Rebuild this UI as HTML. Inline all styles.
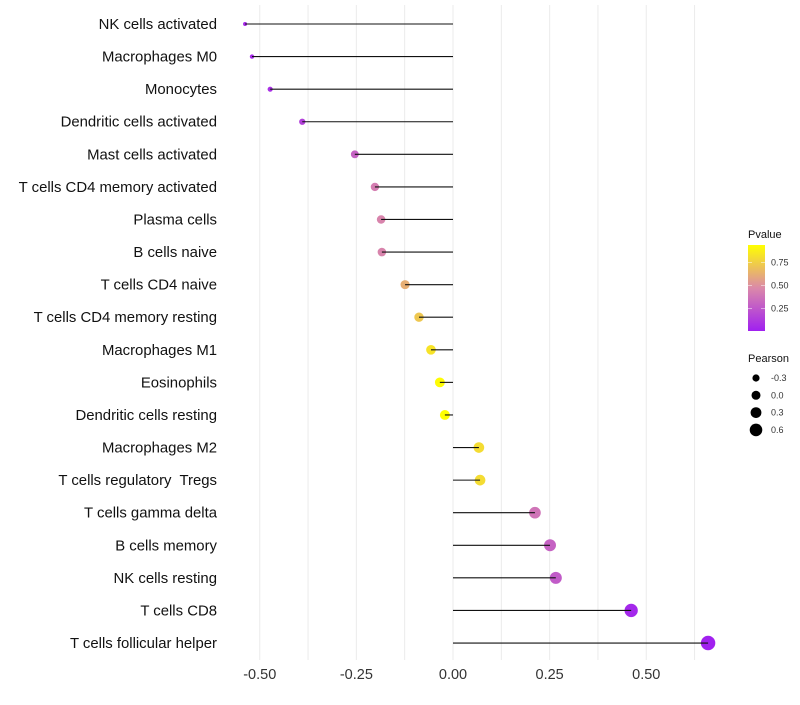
<!DOCTYPE html>
<html><head><meta charset="utf-8"><style>
body{margin:0;background:#fff;font-family:"Liberation Sans",sans-serif;}
svg text{font-family:"Liberation Sans",sans-serif;white-space:pre;}
</style></head><body>
<svg id="chart" width="800" height="700" xmlns="http://www.w3.org/2000/svg"></svg>
<script>
const categories=["NK cells activated","Macrophages M0","Monocytes","Dendritic cells activated","Mast cells activated","T cells CD4 memory activated","Plasma cells","B cells naive","T cells CD4 naive","T cells CD4 memory resting","Macrophages M1","Eosinophils","Dendritic cells resting","Macrophages M2","T cells regulatory  Tregs","T cells gamma delta","B cells memory","NK cells resting","T cells CD8","T cells follicular helper"];
const pearson=[-0.538,-0.52,-0.473,-0.39,-0.254,-0.202,-0.186,-0.184,-0.124,-0.088,-0.057,-0.034,-0.021,0.067,0.07,0.212,0.251,0.266,0.461,0.66];
const pvalues=[0.05,0.05,0.08,0.15,0.3,0.42,0.45,0.45,0.62,0.72,0.83,0.93,0.97,0.8,0.8,0.38,0.3,0.27,0.04,0.01];
const xTicks=[-0.5,-0.25,0,0.25,0.5];
const xTickLabels=["-0.50","-0.25","0.00","0.25","0.50"];
const colorTicks=[0.25,0.5,0.75];
const sizeTicks=[-0.3,0,0.3,0.6];

const NS="http://www.w3.org/2000/svg";
const svg=document.getElementById('chart');
function mk(t,a,p){const e=document.createElementNS(NS,t);for(const k in a)e.setAttribute(k,a[k]);(p||svg).appendChild(e);return e;}
const x=v=>453+v*386.5;
const y=i=>24+i*32.58;
const rad=v=>Math.sqrt(Math.max(2,4+(v+0.54)*40));
const stops=[[160,32,240],[219,137,169],[255,255,0]];
function col(p){const t=Math.max(0,Math.min(1,(p-0.006)/0.934));let a,b,f;if(t<0.5){a=stops[0];b=stops[1];f=t/0.5}else{a=stops[1];b=stops[2];f=(t-0.5)/0.5}
return 'rgb('+a.map((c,i)=>Math.round(c+(b[i]-c)*f)).join(',')+')';}

for(let v=-0.5;v<=0.626;v+=0.125){const g=mk('line',{x1:x(v),x2:x(v),y1:5,y2:660,stroke:'#ebebeb','stroke-width':1});

}
xTicks.forEach((v,i)=>{const t=mk('text',{x:x(v),y:679,'text-anchor':'middle','font-size':14.5,fill:'#333'});t.textContent=xTickLabels[i];

});

categories.forEach((c,i)=>{
const t=mk('text',{x:217,y:y(i)+5,'text-anchor':'end','font-size':14.9,fill:'#111'});t.textContent=c;


const p=mk('circle',{cx:x(pearson[i]),cy:y(i),r:rad(pearson[i]),fill:col(pvalues[i])});


const l=mk('line',{x1:x(0),x2:x(pearson[i]),y1:y(i),y2:y(i),stroke:'#111','stroke-width':1.1});


});

const defs=mk('defs',{});
const lg=mk('linearGradient',{id:'pg',x1:0,y1:1,x2:0,y2:0},defs);
[0,0.5,1].forEach((o,i)=>mk('stop',{offset:o,'stop-color':'rgb('+stops[i].join(',')+')'},lg));
const lt=mk('text',{x:748,y:238,'font-size':11,fill:'#111'});lt.textContent='Pvalue';


const bar=mk('rect',{x:748,y:245,width:17,height:86,fill:'url(#pg)'});


const cy=v=>331-(v-0.006)/0.934*86;
colorTicks.forEach(v=>{const t=mk('text',{x:771,y:cy(v)+3,'font-size':9,fill:'#333'});t.textContent=v.toFixed(2);


mk('line',{x1:748,x2:752,y1:cy(v),y2:cy(v),stroke:'#fff','stroke-opacity':0.5});mk('line',{x1:761,x2:765,y1:cy(v),y2:cy(v),stroke:'#fff','stroke-opacity':0.5});});
const st=mk('text',{x:748,y:362,'font-size':11,fill:'#111'});st.textContent='Pearson';


const legR=[3.6,4.5,5.4,6.3];
sizeTicks.forEach((v,i)=>{const yy=378+i*17.3;
const c=mk('circle',{cx:756,cy:yy,r:legR[i],fill:'#000'});


const t=mk('text',{x:771,y:yy+3,'font-size':9,fill:'#333'});t.textContent=v.toFixed(1);

});
</script>
</body></html>
